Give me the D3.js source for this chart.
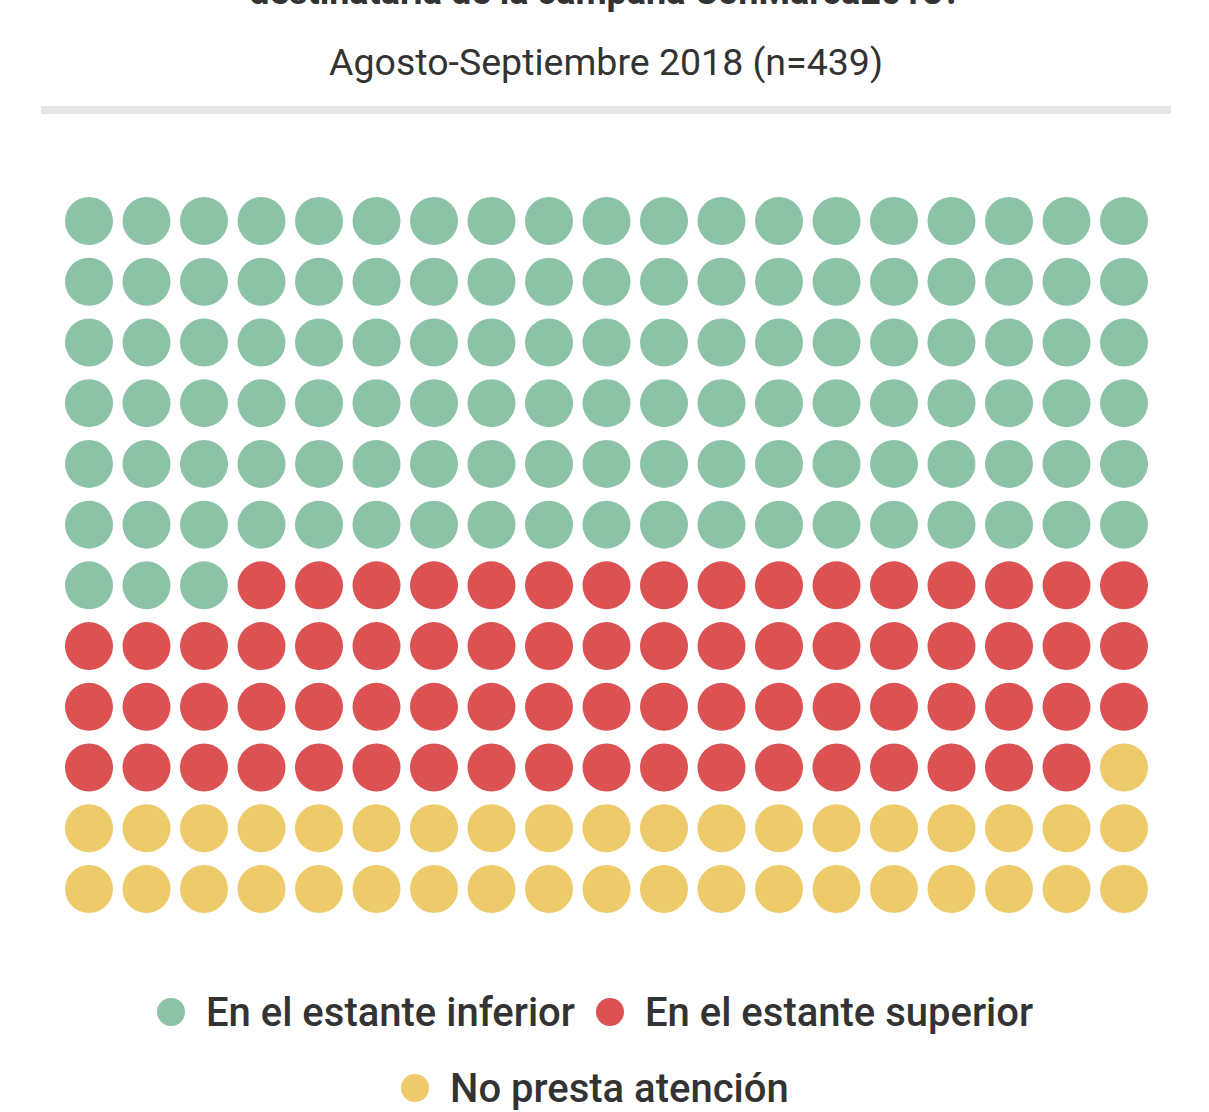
<!DOCTYPE html>
<html>
<head>
<meta charset="utf-8">
<script src="https://cdn.jsdelivr.net/npm/d3@7"></script>
<style>
  body { margin: 0; background: #fff; }
  text { font-family: Roboto, "Noto Sans", sans-serif; }
</style>
</head>
<body>
<script>
// waffle data: one dot per respondent group, filled row by row
const categories = ["En el estante inferior", "En el estante superior", "No presta atención"];
const counts = [117, 72, 39];
const colors = ["#8cc3a6", "#dc5152", "#eecb6a"];
const nCols = 19;
const nRows = 12;

const titleText = "destinataria de la campaña ConMarca2018?";
const subtitleText = "Agosto-Septiembre 2018 (n=439)";

const width = 1209;
const height = 1112;

const svg = d3.select("body")
    .append("svg")
    .attr("width", width)
    .attr("height", height);

// title (cut off at top in the original)
svg.append("text")
    .attr("x", 605)
    .attr("y", 4)
    .attr("text-anchor", "middle")
    .attr("font-size", 36)
    .attr("font-weight", 700)
    .attr("fill", "#333")
    .text(titleText);

svg.append("text")
    .attr("x", 606)
    .attr("y", 75)
    .attr("text-anchor", "middle")
    .attr("font-size", 37.5)
    .attr("fill", "#333")
    .text(subtitleText);

svg.append("rect")
    .attr("x", 41)
    .attr("y", 106)
    .attr("width", 1130)
    .attr("height", 8)
    .attr("fill", "#e6e6e6");

// build dot list
const dots = [];
counts.forEach(function (c, ci) {
  for (let i = 0; i < c; i++) dots.push({ cat: ci });
});
dots.forEach(function (d, i) {
  d.col = i % nCols;
  d.row = Math.floor(i / nCols);
});

const xScale = d3.scalePoint()
    .domain(d3.range(nCols))
    .range([89, 1124]);

const yScale = d3.scalePoint()
    .domain(d3.range(nRows))
    .range([221, 889]);

svg.append("g")
    .selectAll("circle")
    .data(dots)
    .enter()
    .append("circle")
    .attr("cx", function (d) { return xScale(d.col); })
    .attr("cy", function (d) { return yScale(d.row); })
    .attr("r", 24)
    .attr("fill", function (d) { return colors[d.cat]; });

// legend
const legendPos = [
  { x: 171, y: 1012 },
  { x: 610, y: 1012 },
  { x: 415, y: 1088 }
];

const legend = svg.append("g")
    .selectAll("g")
    .data(categories)
    .enter()
    .append("g")
    .attr("transform", function (d, i) {
      return "translate(" + legendPos[i].x + "," + legendPos[i].y + ")";
    });

legend.append("circle")
    .attr("r", 14)
    .attr("fill", function (d, i) { return colors[i]; });

legend.append("text")
    .attr("x", 35)
    .attr("y", 14)
    .attr("font-size", 40)
    .attr("font-weight", 500)
    .attr("fill", "#333")
    .text(function (d) { return d; });
</script>
</body>
</html>
